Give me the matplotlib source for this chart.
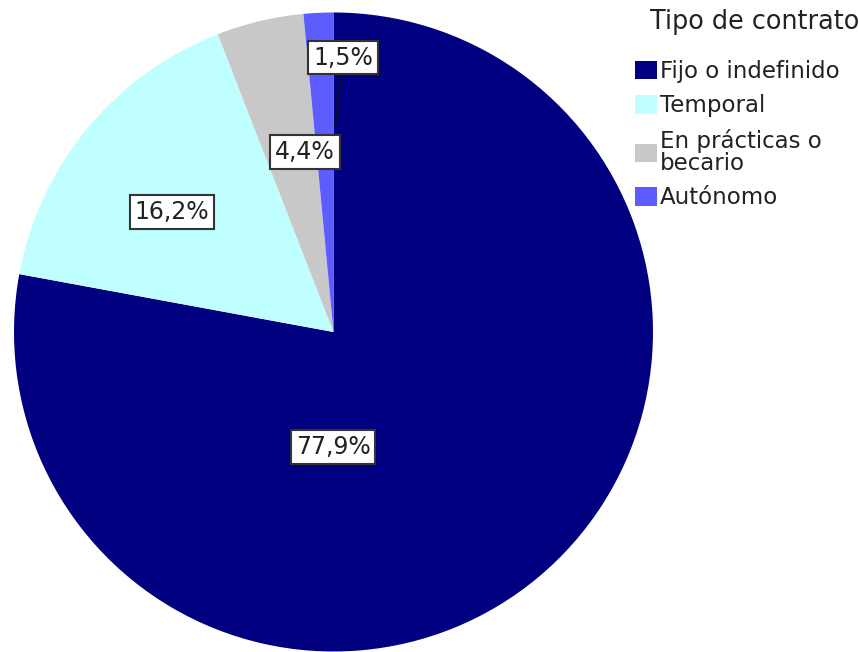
import matplotlib
matplotlib.use("Agg")
import matplotlib.pyplot as plt

categories = ["Fijo o indefinido", "Temporal", "En prácticas o\nbecario", "Autónomo"]
values = [77.9, 16.2, 4.4, 1.5]
value_labels = ["77,9%", "16,2%", "4,4%", "1,5%"]
colors = ["#000080", "#bfffff", "#c8c8c8", "#5c5cff"]
legend_title = "Tipo de contrato"

W, H = 859, 652
fig = plt.figure(figsize=(W / 100, H / 100), dpi=100)
plt.rcParams['font.family'] = ['DejaVu Sans']

cx, cy, r = 333.5, 332.0, 319.5
ax = fig.add_axes([(cx - r) / W, (H - cy - r) / H, 2 * r / W, 2 * r / H])
wedges, _ = ax.pie(values, colors=colors, startangle=90, counterclock=False,
                   wedgeprops=dict(linewidth=0))
ax.set_xlim(-1, 1)
ax.set_ylim(-1, 1)
ax.set_aspect('equal')
ax.axis('off')

# label positions (pixel centers from the reference, converted to data units)
label_px = [(333, 447), (172, 212), (305, 152), (343, 57.5)]
bbox = dict(boxstyle="square,pad=0.2", fc="white", ec="#333333", lw=1.5)
for i, (lab, (px, py)) in enumerate(zip(value_labels, label_px)):
    x = (px - cx) / r
    y = (cy - py) / r
    if i == 3:
        tx, ty = (335 - cx) / r, (cy - 127) / r
        ax.annotate(lab, xy=(tx, ty), xytext=(x, y), ha='center', va='center',
                    fontsize=17, color='#222222', bbox=bbox,
                    arrowprops=dict(arrowstyle='-', color='#111111', lw=1.2,
                                    shrinkA=0, shrinkB=0))
    else:
        ax.text(x, y, lab, ha='center', va='center', fontsize=17,
                color='#222222', bbox=bbox)

fig.text(650 / W, 1 - 22 / H, legend_title, ha='left', va='center',
         fontsize=18.4, color='#222222')
leg = fig.legend(wedges, categories, loc='upper left',
                 bbox_to_anchor=(635 / W, 1 - 60 / H), frameon=False,
                 fontsize=16.5, handlelength=0.95,
                 handleheight=0.85, handletextpad=0.15, labelspacing=0.5,
                 borderpad=0, borderaxespad=0)
for t in leg.get_texts():
    t.set_linespacing(0.95)
    t.set_color('#222222')

fig.savefig("out.png", dpi=100)
